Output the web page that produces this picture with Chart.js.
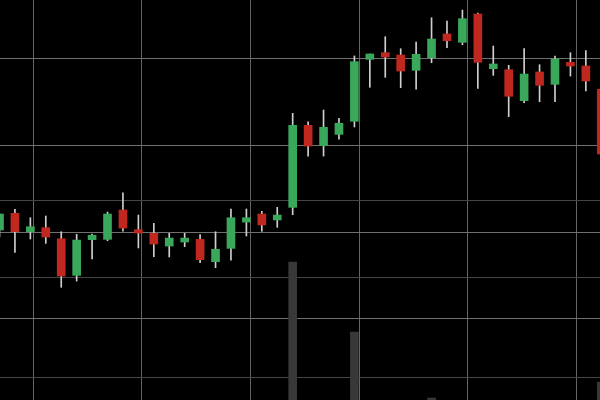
<!DOCTYPE html>
<html>
<head>
<meta charset="utf-8">
<script src="https://cdn.jsdelivr.net/npm/chart.js@4/dist/chart.umd.min.js"></script>
<style>
  html, body { margin: 0; padding: 0; background: #000; }
  #wrap { width: 600px; height: 400px; background: #000; }
</style>
</head>
<body>
<div id="wrap"><canvas id="c" width="600" height="400"></canvas></div>
<script>
// ---- data ----
const sessions = [0,1,2,3,4,5,6,7,8,9,10,11,12,13,14,15,16,17,18,19,20,21,22,23,24,25,26,27,28,29,30,31,32,33,34,35,36,37,38,39];
const openPrices  = [120.23,122.16,120.03,120.50,119.22,114.99,119.11,119.15,122.54,120.26,119.85,118.38,118.84,119.15,116.57,118.11,121.15,122.08,121.39,122.85,132.33,129.98,131.29,132.80,139.96,140.73,140.46,138.69,140.15,142.89,141.93,145.20,138.88,138.76,135.18,138.50,137.07,139.62,139.19,136.50];
const highPrices  = [122.10,122.62,121.65,121.85,120.03,119.73,119.77,122.31,124.54,121.96,121.00,119.85,119.85,119.69,120.03,122.66,122.66,122.39,122.85,133.72,132.75,134.10,133.14,140.35,140.58,142.58,141.19,141.96,144.77,144.39,145.66,145.32,141.50,139.27,141.19,139.34,140.35,140.73,140.96,136.65];
const lowPrices   = [119.42,117.65,119.19,118.69,113.61,114.33,116.88,118.99,120.11,118.15,117.14,117.11,118.30,116.45,115.87,116.73,119.54,120.08,120.54,122.00,128.78,128.78,130.72,132.14,136.73,137.88,136.68,136.50,139.57,141.31,141.65,136.61,138.11,133.33,134.95,135.06,135.06,138.03,136.30,127.80];
const closePrices = [122.08,120.03,120.61,119.42,114.91,119.07,119.62,122.08,120.46,119.88,118.61,119.30,119.30,116.80,118.00,121.65,121.65,120.81,121.96,132.33,129.94,132.10,132.57,139.69,140.58,140.23,138.61,140.54,142.31,142.11,144.66,139.62,139.42,135.69,138.26,136.96,140.00,139.19,137.46,129.02];
const volumes     = [1450,1300,1100,1200,1600,1500,1150,1350,1400,1250,1200,1100,1000,1300,1250,1500,1200,1150,1100,4760,1700,1600,1300,3360,1500,1400,1350,1450,2040,1500,1700,1900,1400,1600,1500,1300,1450,1200,1400,2360];
const priceGridTicks  = [110, 120, 130, 140];
const volumeGridTicks = [2460, 4460, 5980];
const timeGridTicks   = [2.19, 9.23, 16.27, 23.31, 30.35, 37.39];

// ---- chart ----
const UP = '#3aa85a', DOWN = '#c0281f', WICK = '#cfcfcf', VOL = '#383838';
const bodyData = sessions.map((s, i) => ({ x: s, y: [openPrices[i], closePrices[i]] }));
const wickData = sessions.map((s, i) => ({ x: s, y: [lowPrices[i], highPrices[i]] }));
const volData  = sessions.map((s, i) => ({ x: s, y: volumes[i] }));
const bodyColors = sessions.map((s, i) => closePrices[i] >= openPrices[i] ? UP : DOWN);

const bgPlugin = {
  id: 'bg',
  beforeDraw(chart) {
    const ctx = chart.ctx;
    ctx.save();
    ctx.fillStyle = '#000';
    ctx.fillRect(0, 0, chart.width, chart.height);
    ctx.restore();
  }
};

new Chart(document.getElementById('c'), {
  type: 'bar',
  data: {
    datasets: [
      { label: 'body', data: bodyData, backgroundColor: bodyColors, borderWidth: 0,
        barThickness: 8, grouped: false, yAxisID: 'y', order: 0, borderSkipped: false },
      { label: 'wick', data: wickData, backgroundColor: WICK, borderWidth: 0,
        barThickness: 1, grouped: false, yAxisID: 'y', order: 1, borderSkipped: false },
      { label: 'volume', data: volData, backgroundColor: VOL, borderWidth: 0,
        barThickness: 8, grouped: false, yAxisID: 'yv', order: 2 }
    ]
  },
  options: {
    responsive: false,
    animation: false,
    devicePixelRatio: 1,
    layout: { padding: 0 },
    plugins: { legend: { display: false }, tooltip: { enabled: false } },
    scales: {
      x: {
        type: 'linear', min: 0.032, max: 38.917, offset: false,
        afterBuildTicks: (s) => { s.ticks = timeGridTicks.map(v => ({ value: v })); },
        ticks: { display: false },
        grid: { color: '#646464', lineWidth: 1, drawTicks: false, offset: false },
        border: { display: false }
      },
      y: {
        type: 'linear', position: 'right', min: 100.58, max: 146.82,
        afterBuildTicks: (s) => { s.ticks = priceGridTicks.map(v => ({ value: v })); },
        ticks: { display: false },
        grid: { color: '#707070', lineWidth: 1, drawTicks: false },
        border: { display: false }
      },
      yv: {
        type: 'linear', position: 'left', min: 2000, max: 10000,
        afterBuildTicks: (s) => { s.ticks = volumeGridTicks.map(v => ({ value: v })); },
        ticks: { display: false },
        grid: { color: '#454545', lineWidth: 1, drawTicks: false },
        border: { display: false }
      }
    }
  },
  plugins: [bgPlugin]
});
</script>
</body>
</html>
